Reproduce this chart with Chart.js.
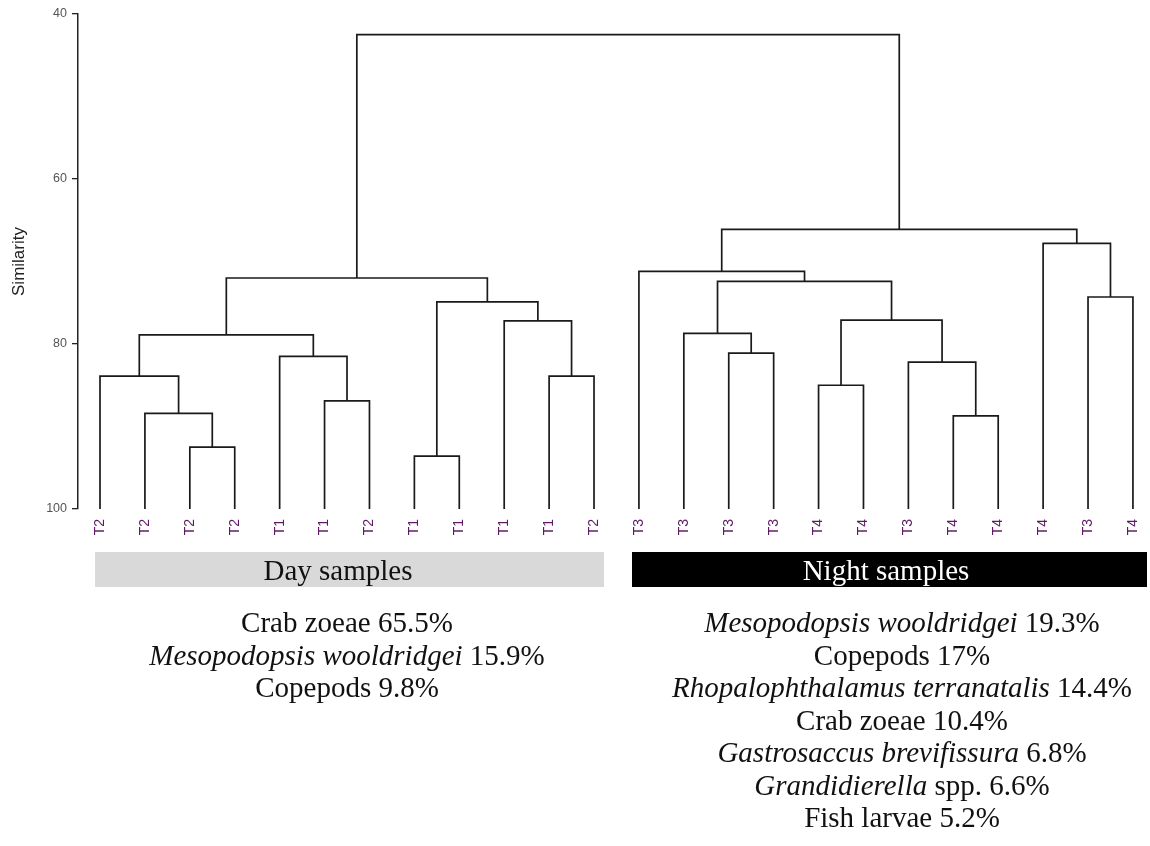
<!DOCTYPE html>
<html>
<head>
<meta charset="utf-8">
<script src="https://cdn.jsdelivr.net/npm/chart.js@4"></script>
<style>
  html, body { margin: 0; padding: 0; background: #fff; }
  #wrap { width: 1150px; height: 846px; }
</style>
</head>
<body>
<div id="wrap"><canvas id="dendro"></canvas></div>
<script>
// leaves, left to right
const leafLabels = ['T2','T2','T2','T2','T1','T1','T2','T1','T1','T1','T1','T2',
                    'T3','T3','T3','T3','T4','T4','T3','T4','T4','T4','T3','T4'];

// merges: ids 0-23 are leaves, id 24+k is merge k
const mergeLeft   = [2, 1, 0, 5, 4, 26, 7, 10, 9, 30, 29, 14, 13, 16, 19, 18, 37, 36, 12, 22, 21, 42, 34];
const mergeRight  = [3, 24, 25, 6, 27, 28, 8, 11, 31, 32, 33, 15, 35, 17, 20, 38, 39, 40, 41, 23, 43, 44, 45];
const mergeHeight = [92.5, 88.4, 83.9, 86.9, 81.5, 78.9, 93.6, 83.9, 77.2, 74.9, 72.0,
                     81.1, 78.7, 85.0, 88.7, 82.2, 77.1, 72.4, 71.2, 74.3, 67.8, 66.1, 42.5];

const yTicks = [40, 60, 80, 100];

const groupNames = ['Day samples', 'Night samples'];

// [text, italic]
const dayLines = [
    [['Crab zoeae 65.5%', false]],
    [['Mesopodopsis wooldridgei', true], [' 15.9%', false]],
    [['Copepods 9.8%', false]]
];
const nightLines = [
    [['Mesopodopsis wooldridgei', true], [' 19.3%', false]],
    [['Copepods 17%', false]],
    [['Rhopalophthalamus terranatalis', true], [' 14.4%', false]],
    [['Crab zoeae 10.4%', false]],
    [['Gastrosaccus brevifissura', true], [' 6.8%', false]],
    [['Grandidierella', true], [' spp. 6.6%', false]],
    [['Fish larvae 5.2%', false]]
];

// build the elbow lines from the merge table
const nodeX = leafLabels.map((_, i) => i);
const nodeY = leafLabels.map(() => 100);
const datasets = mergeHeight.map((h, k) => {
    const a = mergeLeft[k], b = mergeRight[k];
    const seg = [
        {x: nodeX[a], y: nodeY[a]},
        {x: nodeX[a], y: h},
        {x: nodeX[b], y: h},
        {x: nodeX[b], y: nodeY[b]}
    ];
    nodeX.push((nodeX[a] + nodeX[b]) / 2);
    nodeY.push(h);
    return {
        data: seg,
        borderColor: '#1a1a1a',
        borderWidth: 1.7,
        pointRadius: 0,
        fill: false,
        tension: 0
    };
});

const serif = '"Liberation Serif", "Times New Roman", serif';

function drawRich(ctx, segs, cx, y, size) {
    const widths = segs.map(([t, it]) => {
        ctx.font = (it ? 'italic ' : '') + size + 'px ' + serif;
        return ctx.measureText(t).width;
    });
    let x = cx - widths.reduce((s, w) => s + w, 0) / 2;
    segs.forEach(([t, it], i) => {
        ctx.font = (it ? 'italic ' : '') + size + 'px ' + serif;
        ctx.fillText(t, x, y);
        x += widths[i];
    });
}

const notes = {
    id: 'notes',
    afterDraw(chart) {
        const ctx = chart.ctx;
        ctx.save();
        // group bars
        ctx.fillStyle = '#d9d9d9';
        ctx.fillRect(95, 552, 509, 35);
        ctx.fillStyle = '#000';
        ctx.fillRect(632, 552, 515, 35);
        ctx.textAlign = 'center';
        ctx.textBaseline = 'alphabetic';
        ctx.font = '29px ' + serif;
        ctx.fillStyle = '#111';
        ctx.fillText(groupNames[0], 338, 580);
        ctx.fillStyle = '#fff';
        ctx.fillText(groupNames[1], 886, 580);

        ctx.textAlign = 'left';
        ctx.fillStyle = '#111';
        dayLines.forEach((l, i) => drawRich(ctx, l, 347, 632 + i * 32.5, 29));
        nightLines.forEach((l, i) => drawRich(ctx, l, 902, 632 + i * 32.5, 29));
        ctx.restore();
    }
};

new Chart(document.getElementById('dendro'), {
    type: 'line',
    data: { datasets: datasets },
    plugins: [notes],
    options: {
        responsive: true,
        maintainAspectRatio: false,
        animation: false,
        layout: { padding: { top: 14, right: 0, bottom: 297, left: 0 } },
        plugins: {
            legend: { display: false },
            tooltip: { enabled: false }
        },
        scales: {
            x: {
                type: 'linear',
                min: -0.49,
                max: 23.38,
                afterBuildTicks: s => { s.ticks = leafLabels.map((_, i) => ({value: i})); },
                afterFit: s => { s.height = 40; s.paddingLeft = 0; s.paddingRight = 0; },
                grid: { display: false, drawTicks: false },
                border: { display: false },
                ticks: {
                    autoSkip: false,
                    minRotation: 90,
                    maxRotation: 90,
                    padding: 10,
                    color: '#5e1a63',
                    font: { family: 'Arial, "Liberation Sans"', size: 14 },
                    callback: v => leafLabels[v]
                }
            },
            y: {
                min: 40,
                max: 100,
                reverse: true,
                afterBuildTicks: s => { s.ticks = yTicks.map(v => ({value: v})); },
                afterFit: s => { s.width = 78; },
                grid: { drawOnChartArea: false, drawTicks: true, tickLength: 6, color: '#222', lineWidth: 1.3 },
                border: { display: true, color: '#222', width: 1.5 },
                ticks: {
                    color: '#555',
                    padding: 5,
                    font: { family: 'Arial, "Liberation Sans"', size: 12.5 }
                },
                title: {
                    display: true,
                    text: 'Similarity',
                    color: '#222',
                    padding: { top: 9, bottom: 0 },
                    font: { family: 'Arial, "Liberation Sans"', size: 17 }
                }
            }
        }
    }
});
</script>
</body>
</html>
